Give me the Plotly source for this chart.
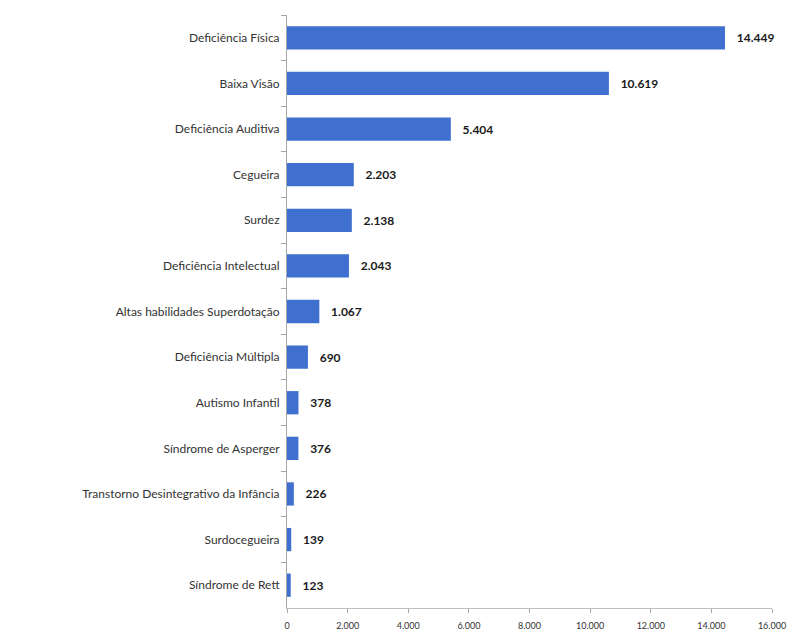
import plotly.graph_objects as go

categories = [
    "Deficiência Física",
    "Baixa Visão",
    "Deficiência Auditiva",
    "Cegueira",
    "Surdez",
    "Deficiência Intelectual",
    "Altas habilidades Superdotação",
    "Deficiência Múltipla",
    "Autismo Infantil",
    "Síndrome de Asperger",
    "Transtorno Desintegrativo da Infância",
    "Surdocegueira",
    "Síndrome de Rett",
]
values = [14449, 10619, 5404, 2203, 2138, 2043, 1067, 690, 378, 376, 226, 139, 123]
x_ticks = [0, 2000, 4000, 6000, 8000, 10000, 12000, 14000, 16000]

font_family = "Lato, 'Liberation Sans Narrow', sans-serif"

fig = go.Figure(
    go.Bar(
        y=categories,
        x=values,
        orientation="h",
        marker=dict(color="#3f6fcf", line=dict(width=0)),
        texttemplate="   %{x:,}",
        textposition="outside",
        cliponaxis=False,
        textfont=dict(family=font_family, size=12, color="#1a1a1a", weight="bold"),
        width=0.51,
    )
)

fig.update_layout(
    width=800,
    height=634,
    margin=dict(l=287, r=28, t=15, b=26),
    plot_bgcolor="white",
    paper_bgcolor="white",
    separators=",.",
    showlegend=False,
    font=dict(family=font_family, color="#333333"),
)

fig.update_yaxes(
    type="category",
    autorange="reversed",
    automargin=False,
    showline=True,
    linecolor="#a6a6a6",
    linewidth=1,
    ticks="outside",
    tickson="boundaries",
    ticklen=5,
    tickcolor="#a6a6a6",
    tickfont=dict(size=12, color="#333333"),
    showgrid=False,
    ticklabelstandoff=4,
)

fig.update_xaxes(
    range=[0, 16000],
    tickvals=x_ticks,
    tickformat=",d",
    automargin=False,
    showline=True,
    linecolor="#bfbfbf",
    linewidth=1,
    ticks="outside",
    ticklen=4,
    tickcolor="#a6a6a6",
    tickfont=dict(size=9, color="#333333"),
    showgrid=False,
    zeroline=False,
    ticklabelstandoff=5,
)

fig.write_html("out.html")
